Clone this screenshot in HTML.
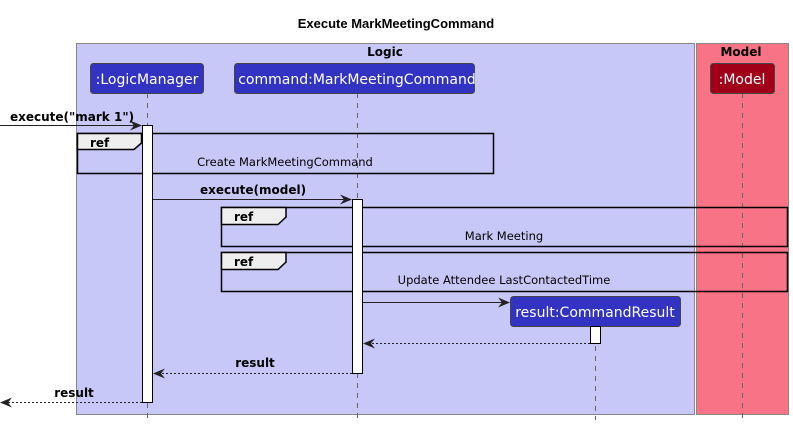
<!DOCTYPE html>
<html><head><meta charset="utf-8"><style>
html,body{margin:0;padding:0;background:#fff;}
svg{display:block;font-family:"DejaVu Sans","Liberation Sans",sans-serif;}
.b{font-weight:bold;}
</style></head><body>
<svg width="793" height="426" viewBox="0 0 793 426" xmlns="http://www.w3.org/2000/svg">
<defs>
<marker id="ah" viewBox="0 0 12 10" refX="11" refY="5" markerWidth="12" markerHeight="10" markerUnits="userSpaceOnUse" orient="auto">
<path d="M0,0 L12,5 L0,10 L4,5 Z" fill="#222"/>
</marker>
</defs>
<text x="396" y="28" text-anchor="middle" font-size="13" class="b" font-family="Liberation Sans, sans-serif">Execute MarkMeetingCommand</text>
<rect x="76.5" y="43.5" width="618" height="371" fill="#c8c8f8" stroke="#888" stroke-width="1"/>
<text x="385" y="56" text-anchor="middle" font-size="12" class="b">Logic</text>
<rect x="696.5" y="43.5" width="92" height="371" fill="#f87386" stroke="#888" stroke-width="1"/>
<text x="741" y="56" text-anchor="middle" font-size="12" class="b">Model</text>
<g stroke="#666" stroke-dasharray="5,5" stroke-width="1">
<line x1="147.5" y1="93" x2="147.5" y2="420"/>
<line x1="357.5" y1="93" x2="357.5" y2="420"/>
<line x1="742.5" y1="93" x2="742.5" y2="420"/>
<line x1="595.5" y1="326" x2="595.5" y2="420"/>
</g>
<rect x="90.5" y="63.5" width="113" height="30" rx="3" fill="#3333c3" stroke="#444"/>
<text x="147" y="84" text-anchor="middle" font-size="14" fill="#fff">:LogicManager</text>
<rect x="234.5" y="63.5" width="240" height="30" rx="3" fill="#3333c3" stroke="#444"/>
<text x="357" y="84" text-anchor="middle" font-size="14" fill="#fff">command:MarkMeetingCommand</text>
<rect x="710.5" y="63.5" width="64" height="30" rx="3" fill="#a00018" stroke="#444"/>
<text x="742" y="84" text-anchor="middle" font-size="14" fill="#fff">:Model</text>
<rect x="77.5" y="133.5" width="416" height="40" fill="none" stroke="#000" stroke-width="1.5"/>
<path d="M77.5,133.5 H141.5 V143 L134,149.5 H77.5 Z" fill="#eee" stroke="#000" stroke-width="1.5"/>
<text x="90" y="147" font-size="12" class="b">ref</text>
<text x="285" y="166" text-anchor="middle" font-size="11.5">Create MarkMeetingCommand</text>
<rect x="142.5" y="125.5" width="10" height="277" fill="#fff" stroke="#000"/>
<line x1="0" y1="125.5" x2="141" y2="125.5" stroke="#222" marker-end="url(#ah)"/>
<text x="10" y="121" font-size="12" class="b">execute("mark 1")</text>
<line x1="153" y1="199.5" x2="351" y2="199.5" stroke="#222" marker-end="url(#ah)"/>
<text x="200" y="194" font-size="12" class="b">execute(model)</text>
<rect x="221.5" y="207.5" width="566" height="39" fill="none" stroke="#000" stroke-width="1.5"/>
<path d="M221.5,207.5 H286 V217 L278,224.5 H221.5 Z" fill="#eee" stroke="#000" stroke-width="1.5"/>
<text x="234" y="221" font-size="12" class="b">ref</text>
<text x="504" y="240" text-anchor="middle" font-size="11.5">Mark Meeting</text>
<rect x="221.5" y="252.5" width="566" height="39" fill="none" stroke="#000" stroke-width="1.5"/>
<path d="M221.5,252.5 H286 V262 L278,269.5 H221.5 Z" fill="#eee" stroke="#000" stroke-width="1.5"/>
<text x="234" y="266" font-size="12" class="b">ref</text>
<text x="504" y="284" text-anchor="middle" font-size="11.5">Update Attendee LastContactedTime</text>
<rect x="352.5" y="199.5" width="10" height="174" fill="#fff" stroke="#000"/>
<line x1="363" y1="302.5" x2="509" y2="302.5" stroke="#222" marker-end="url(#ah)"/>
<rect x="510.5" y="296.5" width="170" height="30" rx="3" fill="#3333c3" stroke="#444"/>
<text x="595" y="317" text-anchor="middle" font-size="14" fill="#fff">result:CommandResult</text>
<rect x="590.5" y="326.5" width="10" height="17" fill="#fff" stroke="#000"/>
<line x1="590" y1="343.5" x2="364" y2="343.5" stroke="#222" stroke-dasharray="2,2" marker-end="url(#ah)"/>
<line x1="352" y1="373.5" x2="154" y2="373.5" stroke="#222" stroke-dasharray="2,2" marker-end="url(#ah)"/>
<text x="255" y="367" text-anchor="middle" font-size="12" class="b">result</text>
<line x1="142" y1="402.5" x2="1" y2="402.5" stroke="#222" stroke-dasharray="2,2" marker-end="url(#ah)"/>
<text x="74" y="397" text-anchor="middle" font-size="12" class="b">result</text>
</svg>
</body></html>
